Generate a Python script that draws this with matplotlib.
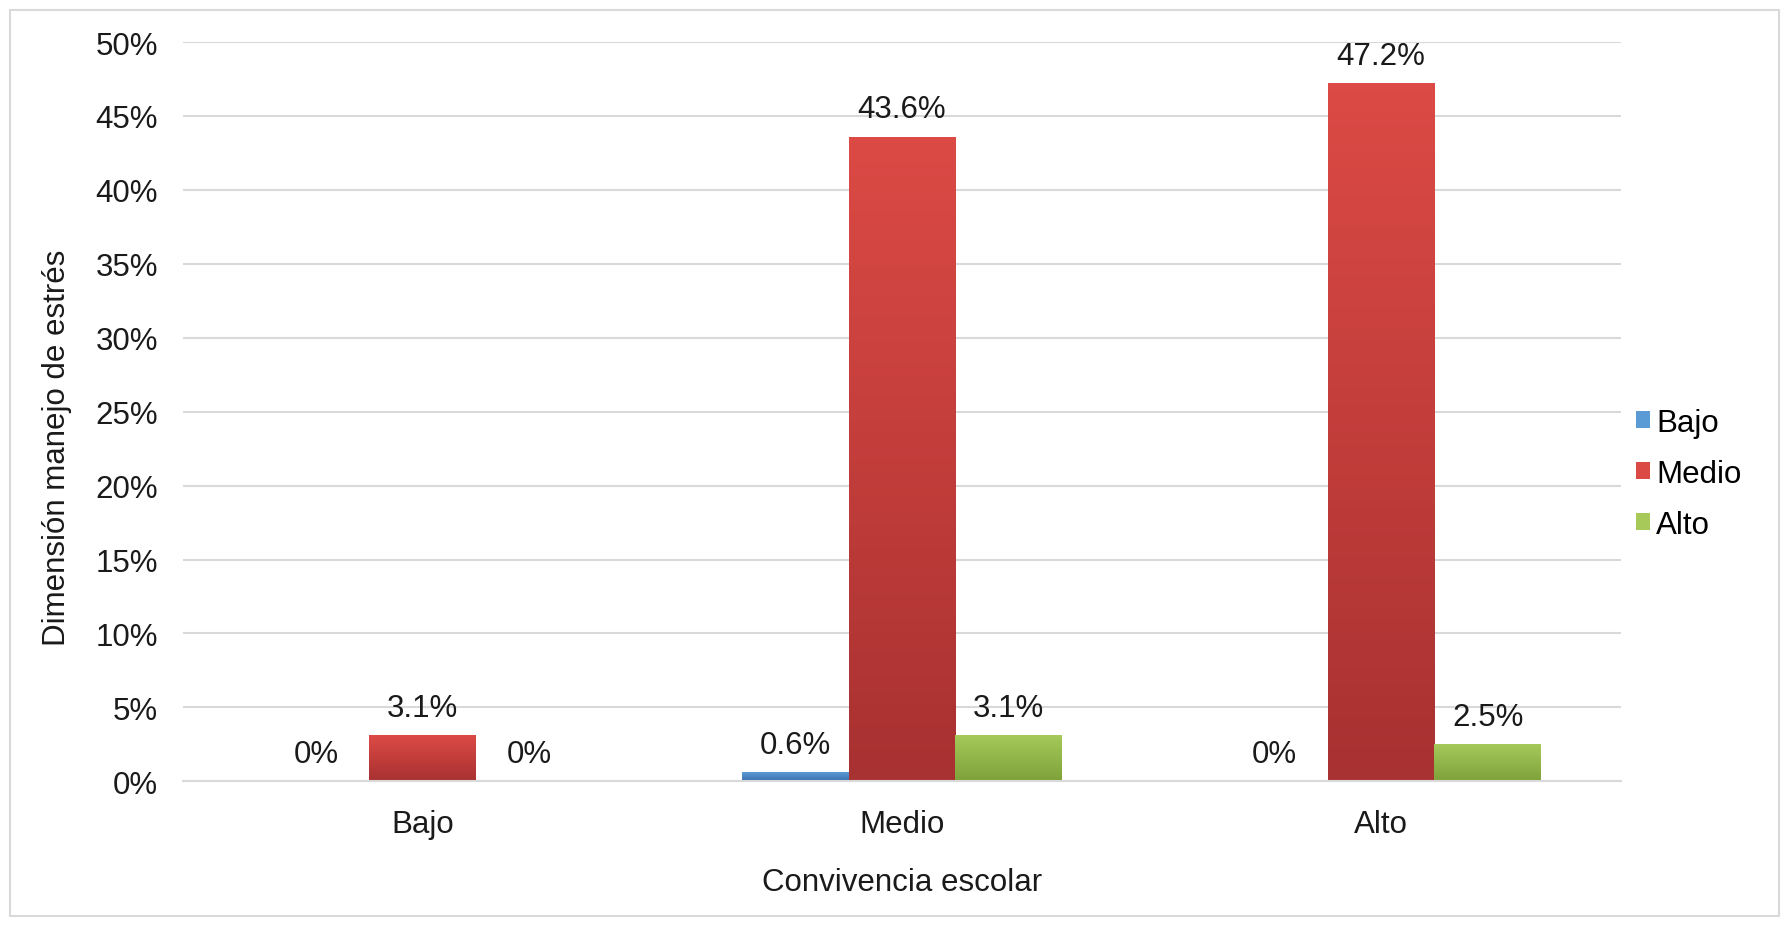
import numpy as np
import matplotlib.pyplot as plt
from matplotlib.colors import LinearSegmentedColormap
from matplotlib.patches import Rectangle

plt.rcParams['font.family'] = ['Liberation Sans', 'DejaVu Sans']

categories = ['Bajo', 'Medio', 'Alto']
series = ['Bajo', 'Medio', 'Alto']
bajo = [0.0, 0.6, 0.0]
medio = [3.1, 43.6, 47.2]
alto = [0.0, 3.1, 2.5]
labels_bajo = ['0%', '0.6%', '0%']
labels_medio = ['3.1%', '43.6%', '47.2%']
labels_alto = ['0%', '3.1%', '2.5%']

# light top / dark bottom like the excel bevel look
colors = [('#5b9bd5', '#3a6fb0'), ('#dc4a45', '#a83131'), ('#a6c95a', '#7ea23a')]

fig = plt.figure(figsize=(17.87, 9.28), dpi=100)
ax = fig.add_axes([0.1024, 0.157, 0.8046, 0.7966])

x = np.arange(len(categories))
w = 1 / 4.5
values = [bajo, medio, alto]
texts = [labels_bajo, labels_medio, labels_alto]

for i, (vals, labs, (c_top, c_bot)) in enumerate(zip(values, texts, colors)):
    pos = x + (i - 1) * w
    bars = ax.bar(pos, vals, w, color=c_top, label=series[i], zorder=2,
                  edgecolor='none')
    cmap = LinearSegmentedColormap.from_list('g', [c_bot, c_top])
    for b in bars:
        h = b.get_height()
        if h <= 0:
            continue
        grad = np.linspace(0, 1, 100).reshape(-1, 1)
        im = ax.imshow(grad, extent=[b.get_x(), b.get_x() + w, 0, h],
                       origin='lower', aspect='auto', cmap=cmap, zorder=2.5)
        im.set_clip_path(b)
    for p, v, t in zip(pos, vals, labs):
        ax.annotate(t, (p, v), xytext=(0, 9), textcoords='offset points',
                    ha='center', va='bottom', fontsize=22.5, color='#1a1a1a')

ax.set_xlim(-0.5, 2.5)
ax.set_ylim(0, 50)
ax.set_yticks(np.arange(0, 51, 5))
ax.set_yticklabels([f'{v}%' for v in range(0, 51, 5)])
ax.set_xticks(x)
ax.set_xticklabels(categories)
ax.tick_params(axis='both', length=0, labelsize=22.5, colors='#1a1a1a')
ax.tick_params(axis='x', pad=20)
ax.tick_params(axis='y', pad=18)
ax.grid(axis='y', color='#d9d9d9', linewidth=1.5, zorder=0)
ax.set_axisbelow(True)
for s in ['top', 'right', 'left']:
    ax.spines[s].set_visible(False)
ax.spines['bottom'].set_color('#d9d9d9')
ax.spines['bottom'].set_linewidth(1.5)

ax.set_xlabel('Convivencia escolar', fontsize=22.5, color='#1a1a1a', labelpad=20)
ax.set_ylabel('Dimensión manejo de estrés', fontsize=22.5, color='#1a1a1a')
ax.yaxis.set_label_coords(-0.077, 0.452)

leg = ax.legend(loc='center left', bbox_to_anchor=(0.991, 0.416), frameon=False,
                fontsize=22.5, handlelength=0.45, handleheight=0.45,
                handletextpad=0.2, labelspacing=0.68)

fig.patches.append(Rectangle((0.0056, 0.012), 0.99, 0.976, transform=fig.transFigure,
                             fill=False, edgecolor='#d9d9d9', linewidth=1.5))

fig.savefig('out.png', dpi=100)
